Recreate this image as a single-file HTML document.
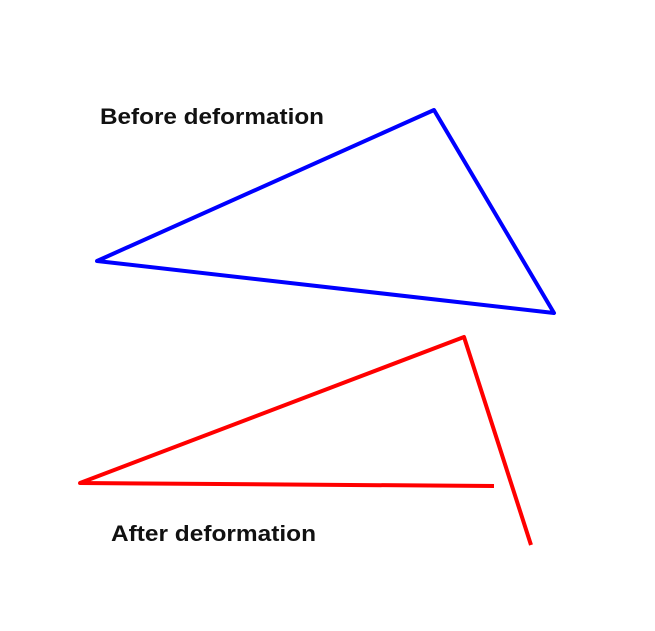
<!DOCTYPE html>
<html>
<head>
<meta charset="utf-8">
<style>
  html,body{margin:0;padding:0;background:#fff;}
  svg{display:block;}
  text{font-family:"Liberation Sans",sans-serif;font-weight:bold;font-size:22px;fill:#111;}
</style>
</head>
<body>
<svg id="chart" width="655" height="631" viewBox="0 0 655 631">
  <text x="100" y="124" textLength="224" lengthAdjust="spacingAndGlyphs">Before deformation</text>
  <text x="111" y="541" textLength="205" lengthAdjust="spacingAndGlyphs">After deformation</text>
</svg>
<script>
const beforeX = [97, 434, 554];
const beforeY = [261, 110, 313];
const afterX = [494, 80, 464, 531];
const afterY = [486, 483, 337, 545];

const ns = 'http://www.w3.org/2000/svg';
const svg = document.getElementById('chart');
function pts(xs, ys){ return xs.map((x,i)=>x+','+ys[i]).join(' '); }

const before = document.createElementNS(ns, 'polygon');
before.setAttribute('points', pts(beforeX, beforeY));
before.setAttribute('fill', 'none');
before.setAttribute('stroke', '#0000ff');
before.setAttribute('stroke-width', '4');
before.setAttribute('stroke-linejoin', 'round');


svg.appendChild(before);

const after = document.createElementNS(ns, 'polyline');
after.setAttribute('points', pts(afterX, afterY));
after.setAttribute('fill', 'none');
after.setAttribute('stroke', '#ff0000');
after.setAttribute('stroke-width', '4');
after.setAttribute('stroke-linejoin', 'round');


svg.appendChild(after);
</script>
</body>
</html>
